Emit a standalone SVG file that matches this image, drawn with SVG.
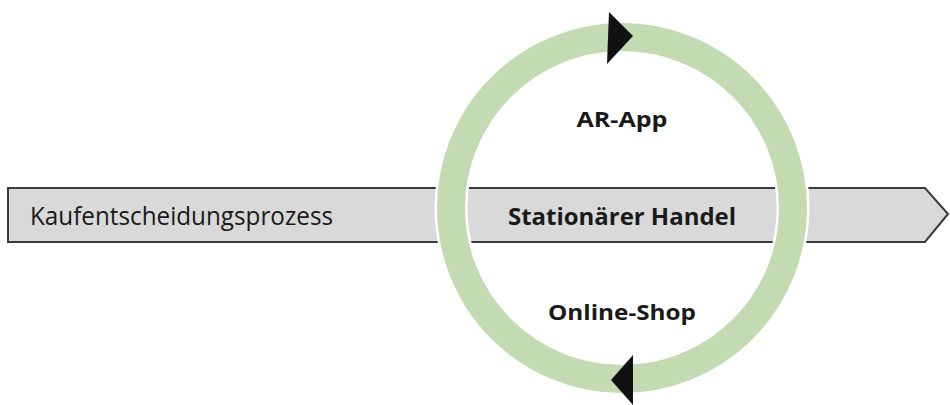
<svg xmlns="http://www.w3.org/2000/svg" width="950" height="405" viewBox="0 0 950 405">
<style>
.lbl{font-family:"Open Sans","Liberation Sans",sans-serif;fill:#1a1a1a}
.b{font-weight:bold;text-anchor:middle}
</style>
<rect width="950" height="405" fill="#ffffff"/>
<g id="process">
<polygon points="8,188 925,188 948,214 925,242 8,242" fill="#d9d9d9" stroke="#3a3a3a" stroke-width="2"/>
<text class="lbl" x="30" y="225" font-size="25" textLength="303" lengthAdjust="spacingAndGlyphs">Kaufentscheidungsprozess</text>
</g>
<g id="cycle">
<circle cx="622" cy="208" r="171" fill="none" stroke="#ffffff" stroke-width="33"/>
<circle cx="622" cy="208" r="171" fill="none" stroke="#c3dbb1" stroke-width="28"/>
</g>
<g id="connectors">
<polygon points="609,12 633,36 607,64" fill="#111111"/>
<polygon points="633,355 611,380 633,405" fill="#111111"/>
</g>
<g id="stationaer">
<text class="lbl b" x="622" y="225" font-size="24" textLength="228" lengthAdjust="spacingAndGlyphs">Stationärer Handel</text>
</g>
<g id="arapp">
<text class="lbl b" x="622" y="127" font-size="22" textLength="91" lengthAdjust="spacingAndGlyphs">AR-App</text>
</g>
<g id="onlineshop">
<text class="lbl b" x="622" y="320" font-size="22" textLength="148" lengthAdjust="spacingAndGlyphs">Online-Shop</text>
</g>
</svg>
